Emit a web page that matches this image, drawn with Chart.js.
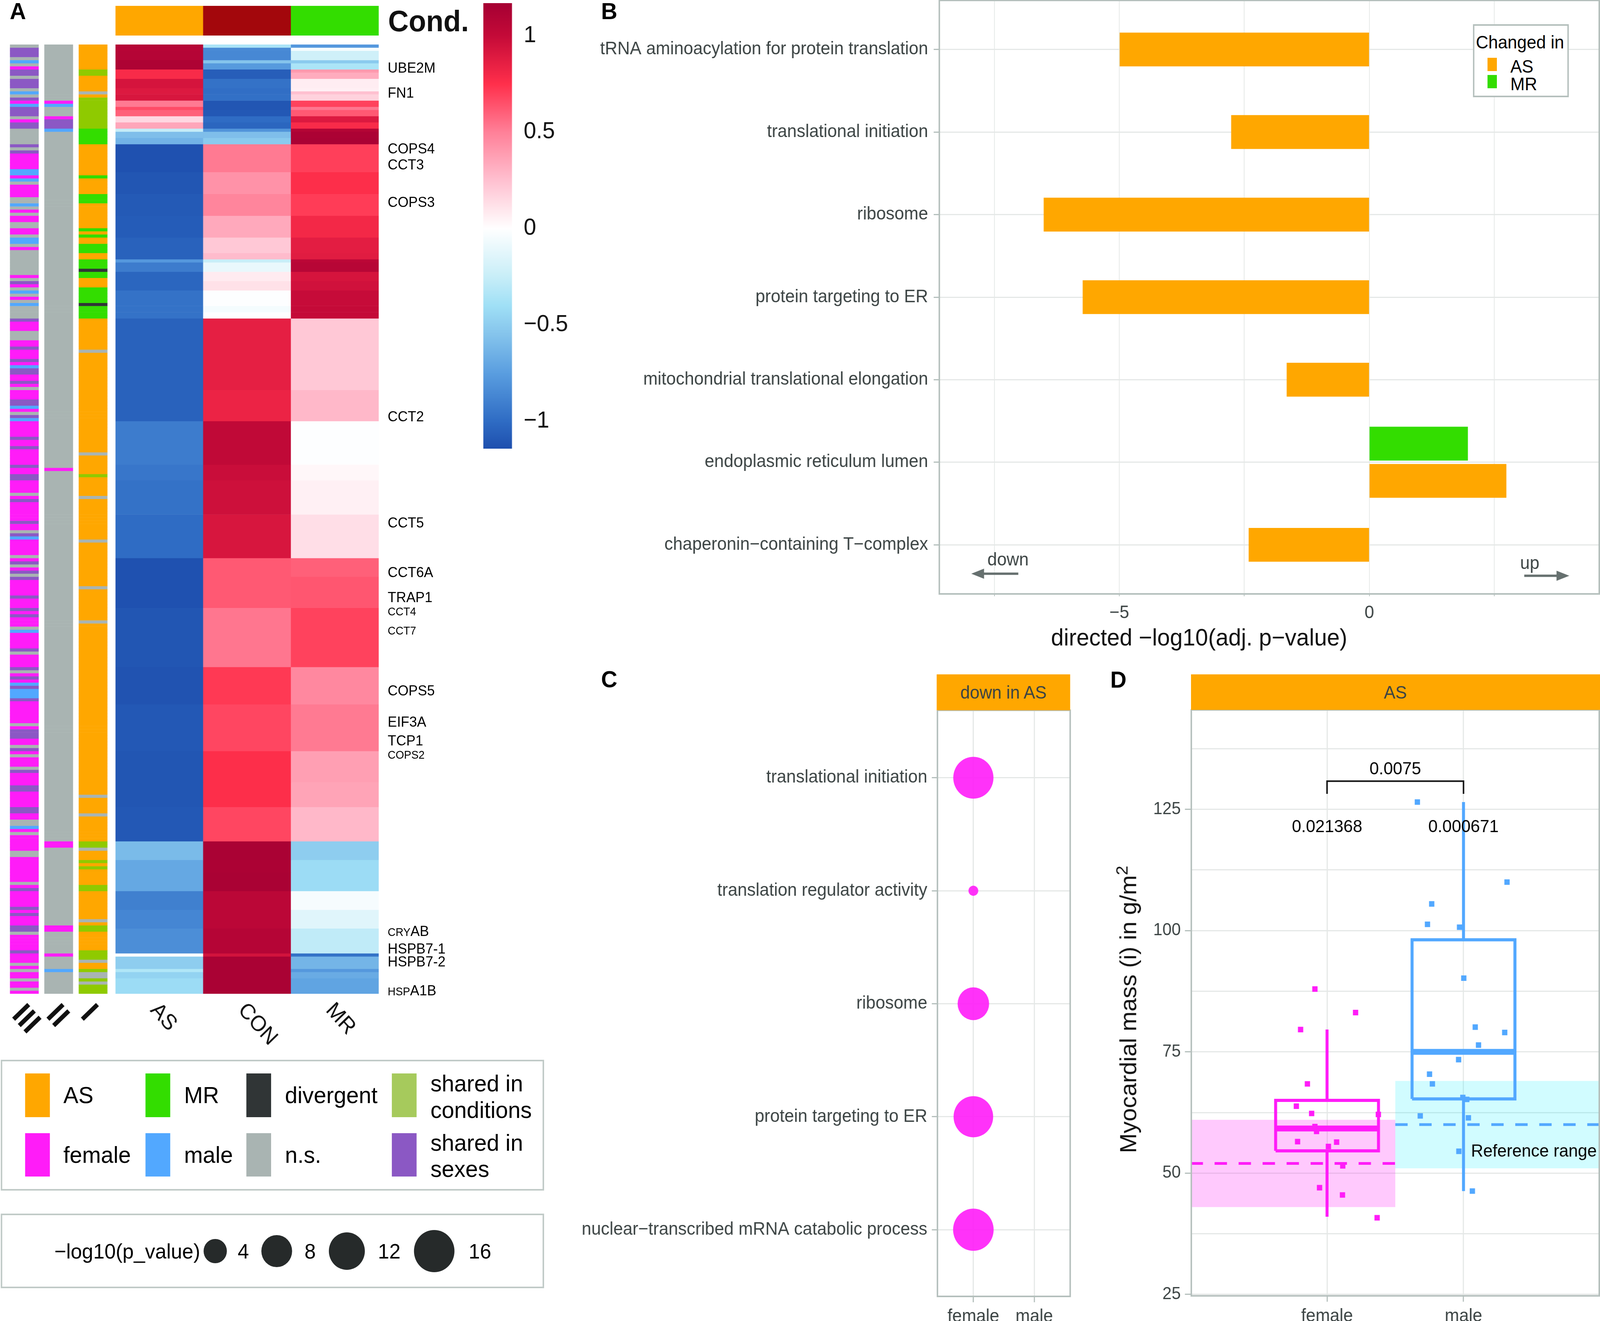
<!DOCTYPE html>
<html>
<head>
<meta charset="utf-8">
<title>Panels A-D</title>
<script src="https://cdn.jsdelivr.net/npm/chart.js@4"></script>
<style>
    html, body { margin: 0; padding: 0; background: #fff; overflow: hidden; }
    #page { position: relative; width: 4267px; height: 3383px; overflow: hidden; font-family: "Liberation Sans", sans-serif; transform-origin: 0 0; }
    #page canvas { position: absolute; }
    .txt { position: absolute; line-height: 1; white-space: nowrap; transform: translateY(-50%); color: #000; }
    .txt sup { font-size: 0.72em; line-height: 0; vertical-align: baseline; position: relative; top: -0.5em; }
    .box { position: absolute; box-sizing: border-box; }
</style>
</head>
<body>
<div id="page"></div>
<script>
// ---------- panel A data ----------
var condLabels = ['AS', 'CON', 'MR'];
var condColors = ['#ffa700', '#a3070c', '#33dd00'];
var sideLabels = ['III', 'II', 'I'];

// heatmap blocks, top to bottom: rows in the block + z-score per condition
var heatRuns = [1, 1, 3, 1, 2, 1, 2, 3, 1, 1, 2, 2, 1, 2, 2, 2, 1, 2, 2, 9, 7, 7, 7, 5, 2, 1, 3, 3, 3, 5, 2, 2, 23, 10, 14, 5, 11, 14, 6, 10, 19, 12, 15, 10, 8, 11, 6, 4, 6, 6, 6, 8, 1, 4, 1, 2, 5];
var heatAS = [1.08, 1.07, 1.08, 1.12, 1.12, 0.78, 0.78, 0.93, 0.9, 0.9, 0.92, 0.52, 0.66, 0.6, 0.16, 0.35, -0.26, -0.58, -0.64, -1.13, -1.11, -1.09, -1.08, -1.05, -1.05, -0.78, -0.92, -1.03, -1.03, -0.97, -0.97, -0.97, -1.05, -1.05, -0.92, -0.95, -0.97, -1.0, -1.13, -1.13, -1.11, -1.12, -1.1, -1.11, -1.11, -1.1, -0.6, -0.7, -0.7, -0.9, -0.87, -0.83, 0, -0.5, -0.34, -0.47, -0.42];
var heatCON = [-0.36, -0.85, -0.86, -0.55, -0.77, -1.07, -1.07, -0.97, -0.99, -0.99, -0.98, -1.11, -1.11, -1.1, -1.0, -1.03, -0.8, -0.58, -0.52, 0.52, 0.43, 0.48, 0.34, 0.22, 0.27, -0.25, -0.1, 0.08, 0.12, -0.01, -0.05, -0.01, 0.86, 0.83, 1.02, 0.98, 0.96, 0.92, 0.62, 0.62, 0.53, 0.72, 0.68, 0.76, 0.76, 0.68, 1.14, 1.13, 1.14, 1.05, 1.05, 1.08, 0.94, 1.14, 1.14, 1.14, 1.14];
var heatMR = [-0.78, -0.04, -0.22, -0.52, -0.36, 0.4, 0.33, 0.07, 0.06, 0.25, 0.18, 0.69, 0.53, 0.62, 0.9, 0.78, 1.09, 1.13, 1.14, 0.7, 0.76, 0.71, 0.8, 0.87, 0.88, 1.05, 1.07, 0.93, 0.95, 0.99, 1.0, 1.0, 0.22, 0.28, -0.01, 0.03, 0.06, 0.13, 0.6, 0.63, 0.69, 0.47, 0.52, 0.38, 0.36, 0.28, -0.5, -0.42, -0.42, -0.04, -0.14, -0.28, -0.97, -0.63, -0.78, -0.68, -0.72];

// annotation columns as code,count pairs (n = n.s., f = female, m = male, p = shared in sexes)
var sideIII = ['n',1,'p',3,'n',1,'m',1,'n',1,'f',1,'p',2,'n',1,'p',3,'n',1,'m',1,'n',1,'p',1,'f',1,'m',1,'p',3,'n',1,'f',1,'p',2,'n',5,'p',1,'n',1,'p',1,'f',5,'m',2,'f',1,'m',1,'n',1,'f',4,'n',2,'m',1,'n',1,'f',1,'n',1,'f',2,'n',2,'f',2,'n',1,'m',2,'n',1,'f',1,'n',8,'f',1,'n',1,'p',1,'f',1,'n',1,'m',1,'n',1,'f',1,'n',1,'m',1,'n',4,'p',1,'f',3,'n',3,'f',2,'p',1,
    'f',3,'p',1,'f',1,'m',1,'p',2,'f',2,'p',1,'f',1,'n',1,'f',3,'p',2,'m',1,'f',1,'n',1,'p',1,'m',1,'f',5,'p',1,'f',2,'p',1,'f',5,'p',1,'f',2,'p',2,'f',4,'n',1,'f',1,'p',1,'f',6,'p',1,'f',2,'n',1,'p',1,'m',1,'f',5,'n',1,'f',1,'p',1,'n',1,'f',1,'p',1,'n',1,'p',1,'f',5,'p',1,'f',3,'p',1,'f',1,'p',1,'f',3,'n',1,'m',1,'f',5,'p',1,'n',1,'f',4,'p',1,'n',1,'f',1,'p',1,'f',1,'m',1,'p',1,'m',3,'p',1,'f',7,'n',1,'f',1,'p',3,'f',2,'n',1,'p',1,'f',1,'n',1,'f',3,'n',1,'p',1,'f',4,
    'p',2,'f',5,'p',2,'f',2,'n',2,'m',1,'f',1,'n',1,'f',5,'n',2,'f',8,'n',1,'f',1,'p',1,'f',5,'p',1,'f',1,'p',1,'f',3,'p',2,'n',1,'f',5,'p',1,'f',3,'n',1,'f',1,'n',1,'f',2,'n',1,'f',2,'n',1,'f',1];
var sideII = ['n',18,'f',1,'m',1,'n',3,'f',1,'p',3,'m',1,'n',108,'f',1,'n',119,'f',2,'n',25,'f',2,'n',7,'f',1,'n',4,'m',1,'n',7];
// a = AS, g = MR, o = shared in conditions, d = divergent
var sideI = ['a',8,'o',2,'a',5,'n',1,'a',1,'o',10,'g',5,'a',10,'g',1,'a',5,'g',3,'a',8,'g',1,'a',1,'g',1,'a',2,'g',3,'a',2,'g',3,'d',1,'g',2,'a',3,'g',5,'d',1,'g',4,'a',10,
    'n',1,'a',32,'n',1,'a',6,'o',1,'a',6,'n',1,'a',13,'n',1,'a',14,'n',1,'a',10,'n',1,'a',55,'n',1,'a',5,'n',1,'a',8,'o',2,'n',1,'a',3,'o',1,'a',1,'o',1,'a',5,'o',2,'a',9,'n',1,'a',1,'o',2,'a',6,'o',3,'n',1,'a',2,'o',1,'n',2,'o',1,'n',1,'o',3];
var sideColors = { n: '#a9b4b2', f: '#ff1cf8', m: '#52a8ff', p: '#8b58c4', a: '#ffa700', g: '#33dd00', o: '#8fca00', d: '#303536' };

var scaleStops = [-1.142, -1, -0.75, -0.55, -0.4, -0.25, 0, 0.25, 0.5, 0.75, 1, 1.168];
var scaleColors = ['#1e4fae', '#2f6cc4', '#5a9ee0', '#85c4ec', '#a0e0f6', '#c8eef8', '#ffffff', '#ffc0d0', '#ff8098', '#ff2f4b', '#c40a38', '#a50033'];
var scaleTicks = [-1, -0.5, 0, 0.5, 1];

// ---------- panel B data ----------
var termsB = ['tRNA aminoacylation for protein translation', 'translational initiation', 'ribosome', 'protein targeting to ER', 'mitochondrial translational elongation', 'endoplasmic reticulum lumen', 'chaperonin\u2212containing T\u2212complex'];
var valuesAS_B = [-4.99, -2.76, -6.51, -5.73, -1.65, 2.74, -2.41];
var rowsAS_B = [0, 1, 2, 3, 4, 5, 6];
var valuesMR_B = [1.97];
var rowsMR_B = [5];

// ---------- panel C data ----------
var termsC = ['translational initiation', 'translation regulator activity', 'ribosome', 'protein targeting to ER', 'nuclear\u2212transcribed mRNA catabolic process'];
var sexesC = ['female', 'male'];
var logPvalues = [15.7, 1.2, 8.6, 15.1, 16];
var sizeLegendValues = [4, 8, 12, 16];

// ---------- panel D data ----------
var femaleX = [0.911, 1.209, 0.806, 0.856, 0.775, 0.887, 1.376, 0.911, 0.923, 0.784, 1.07, 1.01, 1.115, 0.945, 1.113, 1.367];
var femaleY = [87.95, 83.1, 79.6, 68.4, 63.8, 62.3, 62.1, 59.6, 58.6, 56.5, 56.4, 55.5, 51.5, 47, 45.5, 40.8];
var maleX = [1.662, 2.319, 1.767, 1.736, 1.971, 2.002, 2.086, 2.302, 2.11, 1.964, 1.751, 1.772, 1.995, 2.024, 1.683, 2.036, 1.966, 2.065];
var maleY = [126.5, 110, 105.5, 101.3, 100.7, 90.2, 80.1, 79, 76.4, 73.4, 70.4, 68.4, 65.6, 65.2, 61.8, 61.4, 54.5, 46.3];
var boxLow = [41, 46.3];
var boxQ1 = [54.6, 65.3];
var boxMedian = [59.2, 75];
var boxQ3 = [65, 98.1];
var boxHigh = [79.6, 126.5];
var refLow = [43, 51];
var refHigh = [61, 69];
var refMean = [52, 60];

// ---------- shared look ----------
var FEMALE = '#ff1cf8', MALE = '#52a8ff', ORANGE = '#ffa700', GREEN = '#33dd00';
var GRID = '#e5e8e7', FRAME = '#b4bfbc', TICKTEXT = '#3c4444';
Chart.defaults.font.family = '"Liberation Sans", sans-serif';
Chart.defaults.color = TICKTEXT;
Chart.defaults.animation = false;
Chart.defaults.responsive = false;
Chart.defaults.devicePixelRatio = 1;
Chart.defaults.plugins.legend.display = false;
Chart.defaults.plugins.tooltip.enabled = false;

var page = document.getElementById('page');
// the browser window can come up narrower than the 4267 wide layout, so fit it
if (window.innerWidth < 4267) {
    page.style.transform = 'scale(' + (window.innerWidth / 4267) + ',1)';
}

function addCanvas(left, top, w, h) {
    var c = document.createElement('canvas');
    c.width = w;
    c.height = h;
    c.style.left = left + 'px';
    c.style.top = top + 'px';
    page.appendChild(c);
    return c.getContext('2d');
}

function addText(html, x, y, size, opts) {
    opts = opts || {};
    var s = document.createElement('span');
    s.className = 'txt';
    s.innerHTML = html;
    s.style.left = x + 'px';
    s.style.top = y + 'px';
    s.style.fontSize = size + 'px';
    if (opts.bold) s.style.fontWeight = 'bold';
    if (opts.color) s.style.color = opts.color;
    if (opts.center) s.style.transform = 'translate(-50%,-50%)';
    if (opts.vertical) s.style.transform = 'translate(-50%,-50%) rotate(-90deg)';
    page.appendChild(s);
}

function addBox(x, y, w, h, color, border) {
    var d = document.createElement('div');
    d.className = 'box';
    d.style.left = x + 'px';
    d.style.top = y + 'px';
    d.style.width = w + 'px';
    d.style.height = h + 'px';
    if (color) d.style.background = color;
    if (border) d.style.border = '4px solid ' + border;
    page.appendChild(d);
    return d;
}

// fixed axis sizes so every plot area lands where it should, no auto margins
function noMargins(scale) {
    scale.paddingTop = scale.paddingBottom = scale.paddingLeft = scale.paddingRight = 0;
}
function fixWidth(w) { return function (scale) { scale.width = w; noMargins(scale); }; }
function fixHeight(h) { return function (scale) { scale.height = h; noMargins(scale); }; }

function hexToRgb(h) {
    return [parseInt(h.substr(1, 2), 16), parseInt(h.substr(3, 2), 16), parseInt(h.substr(5, 2), 16)];
}

// z-score to colour along the colour bar
function colorAt(v) {
    var i = 0;
    while (i < scaleStops.length - 2 && v > scaleStops[i + 1]) i++;
    var t = Math.min(1, Math.max(0, (v - scaleStops[i]) / (scaleStops[i + 1] - scaleStops[i])));
    var a = hexToRgb(scaleColors[i]), b = hexToRgb(scaleColors[i + 1]);
    return 'rgb(' + Math.round(a[0] + (b[0] - a[0]) * t) + ',' + Math.round(a[1] + (b[1] - a[1]) * t) + ',' + Math.round(a[2] + (b[2] - a[2]) * t) + ')';
}

function expandRuns(pairs) {
    var out = [];
    for (var i = 0; i < pairs.length; i += 2) {
        for (var j = 0; j < pairs[i + 1]; j++) out.push(pairs[i]);
    }
    return out;
}

// dot radius in px, area-style scale
function dotRadius(v) {
    return 13 + 41 * Math.sqrt(Math.max(0, (v - 1.2) / 14.8));
}

// frame round the plot area
var framePlugin = {
    id: 'frame',
    afterDatasetsDraw: function (chart) {
        var a = chart.chartArea, ctx = chart.ctx;
        ctx.save();
        ctx.strokeStyle = FRAME;
        ctx.lineWidth = 4;
        ctx.strokeRect(a.left, a.top, a.right - a.left, a.bottom - a.top);
        ctx.restore();
    }
};

// text placed in data coordinates
var notesPlugin = {
    id: 'notes',
    afterDatasetsDraw: function (chart, args, opts) {
        var ctx = chart.ctx;
        (opts.items || []).forEach(function (n) {
            ctx.save();
            ctx.font = n.size + 'px "Liberation Sans"';
            ctx.fillStyle = n.color || '#000';
            ctx.textAlign = n.align || 'center';
            ctx.textBaseline = 'middle';
            ctx.fillText(n.text, chart.scales.x.getPixelForValue(n.x), chart.scales.y.getPixelForValue(n.y));
            ctx.restore();
        });
    }
};

// slanted column labels under the heatmap
var slantPlugin = {
    id: 'slant',
    afterDraw: function (chart, args, opts) {
        var ctx = chart.ctx, sx = chart.scales.x, bottom = chart.chartArea.bottom;
        chart.data.labels.forEach(function (label, i) {
            ctx.save();
            ctx.translate(sx.getPixelForTick(i) + opts.dx, bottom + opts.dy);
            ctx.rotate(47 * Math.PI / 180);
            ctx.font = (opts.bold ? 'bold ' : '') + opts.size + 'px "Liberation Sans"';
            ctx.fillStyle = '#111';
            ctx.textAlign = 'left';
            ctx.textBaseline = 'middle';
            ctx.fillText(label, 0, 0);
            ctx.restore();
        });
    }
};

// ---------- panel A: annotation columns ----------
var rowsIII = expandRuns(sideIII), rowsII = expandRuns(sideII), rowsI = expandRuns(sideI);
var sideSets = [];
for (var r = 0; r < rowsIII.length; r++) {
    sideSets.push({
        data: [1, 1, 1],
        backgroundColor: [sideColors[rowsIII[r]], sideColors[rowsII[r]], sideColors[rowsI[r]]],
        barPercentage: 1,
        categoryPercentage: 0.83,
        inflateAmount: 0.33
    });
}
new Chart(addCanvas(18.5, 114, 275, 2601), {
    type: 'bar',
    data: { labels: sideLabels, datasets: sideSets },
    options: {
        layout: { padding: { bottom: 170 } },
        scales: {
            x: { display: false, stacked: true },
            y: { display: false, stacked: true, reverse: true, min: 0, max: rowsIII.length }
        },
        plugins: { slant: { dx: -20, dy: 42, size: 80, bold: true } }
    },
    plugins: [slantPlugin]
});

// ---------- panel A: heatmap ----------
var heatSets = heatRuns.map(function (n, i) {
    return {
        data: [n, n, n],
        backgroundColor: [colorAt(heatAS[i]), colorAt(heatCON[i]), colorAt(heatMR[i])],
        barPercentage: 1,
        categoryPercentage: 1
    };
});
new Chart(addCanvas(308, 114, 702, 2601), {
    type: 'bar',
    data: { labels: condLabels, datasets: heatSets },
    options: {
        layout: { padding: { bottom: 170 } },
        scales: {
            x: { display: false, stacked: true },
            y: { display: false, stacked: true, reverse: true, min: 0, max: 305 }
        },
        plugins: { slant: { dx: -15, dy: 33, size: 56, bold: false } }
    },
    plugins: [slantPlugin]
});

// condition strip above the heatmap
new Chart(addCanvas(308, 15, 702, 76), {
    type: 'bar',
    data: { labels: condLabels, datasets: [{ data: [1, 1, 1], backgroundColor: condColors, barPercentage: 1, categoryPercentage: 1 }] },
    options: { scales: { x: { display: false }, y: { display: false, min: 0, max: 1 } } }
});

// colour bar
new Chart(addCanvas(1289, 8, 280, 1141), {
    type: 'bar',
    data: {
        labels: ['z'],
        datasets: [{
            data: [[scaleStops[0], scaleStops[scaleStops.length - 1]]],
            barPercentage: 1,
            categoryPercentage: 1,
            backgroundColor: function (c) {
                var area = c.chart.chartArea;
                if (!area) return '#fff';
                var sy = c.chart.scales.y;
                var g = c.chart.ctx.createLinearGradient(0, sy.getPixelForValue(scaleStops[0]), 0, sy.getPixelForValue(scaleStops[scaleStops.length - 1]));
                var span = scaleStops[scaleStops.length - 1] - scaleStops[0];
                scaleStops.forEach(function (s, i) { g.addColorStop((s - scaleStops[0]) / span, scaleColors[i]); });
                return g;
            }
        }]
    },
    options: {
        scales: {
            x: { display: false },
            y: {
                position: 'right',
                min: scaleStops[0],
                max: scaleStops[scaleStops.length - 1],
                afterFit: fixWidth(203.5),
                afterBuildTicks: function (scale) { scale.ticks = scaleTicks.map(function (v) { return { value: v }; }); },
                grid: { display: false },
                border: { display: false },
                ticks: {
                    padding: 23,
                    color: '#111',
                    font: { size: 60 },
                    callback: function (v) { return String(v).replace('-', '\u2212'); }
                }
            }
        }
    }
});

// ---------- panel B ----------
var arrowPlugin = {
    id: 'arrows',
    afterDatasetsDraw: function (chart) {
        var ctx = chart.ctx, sx = chart.scales.x, sy = chart.scales.y;
        [[-7.02, -7.96, 6.35], [3.1, 4.0, 6.375]].forEach(function (a) {
            var x0 = sx.getPixelForValue(a[0]), x1 = sx.getPixelForValue(a[1]), y = sy.getPixelForValue(a[2]);
            var dir = x1 > x0 ? 1 : -1;
            ctx.save();
            ctx.strokeStyle = '#66706f';
            ctx.fillStyle = '#66706f';
            ctx.lineWidth = 6;
            ctx.beginPath();
            ctx.moveTo(x0, y);
            ctx.lineTo(x1 - dir * 20, y);
            ctx.stroke();
            ctx.beginPath();
            ctx.moveTo(x1, y);
            ctx.lineTo(x1 - dir * 34, y - 13);
            ctx.lineTo(x1 - dir * 34, y + 13);
            ctx.closePath();
            ctx.fill();
            ctx.restore();
        });
    }
};

function rowPoints(xs, rows, shift) {
    return xs.map(function (v, i) {
        // the one row with two bars sets them apart
        return { x: v, y: rows[i] + (rows[i] === 5 ? shift : 0) };
    });
}

new Chart(addCanvas(1500, 0, 2767, 1668), {
    type: 'bar',
    data: {
        datasets: [
            { label: 'AS', data: rowPoints(valuesAS_B, rowsAS_B, 0.2256), backgroundColor: ORANGE, barThickness: 86, grouped: false },
            { label: 'MR', data: rowPoints(valuesMR_B, rowsMR_B, -0.2256), backgroundColor: GREEN, barThickness: 86, grouped: false }
        ]
    },
    options: {
        indexAxis: 'y',
        layout: { padding: { top: 1, right: 2 } },
        scales: {
            x: {
                type: 'linear',
                min: -8.6,
                max: 4.6,
                afterFit: fixHeight(147),
                grid: { color: GRID, lineWidth: 2, tickLength: 6, tickColor: FRAME },
                border: { display: false },
                ticks: {
                    stepSize: 2.5,
                    includeBounds: false,
                    autoSkip: false,
                    maxRotation: 0,
                    padding: 16,
                    font: { size: 46 },
                    callback: function (v) { return v === -5 ? '\u22125' : (v === 0 ? '0' : ''); }
                }
            },
            y: {
                type: 'linear',
                reverse: true,
                offset: false,
                min: -0.595,
                max: 6.595,
                afterFit: fixWidth(1005),
                grid: { offset: false, color: GRID, lineWidth: 3, tickLength: 15, tickColor: FRAME, tickWidth: 3 },
                border: { display: false },
                ticks: {
                    stepSize: 1,
                    includeBounds: false,
                    autoSkip: false,
                    padding: 15,
                    font: { size: 46 },
                    callback: function (v) { return termsB[v]; }
                }
            }
        },
        plugins: {
            notes: {
                items: [
                    { x: -7.225, y: 6.19, text: 'down', size: 46, color: TICKTEXT },
                    { x: 3.21, y: 6.23, text: 'up', size: 46, color: TICKTEXT }
                ]
            }
        }
    },
    plugins: [framePlugin, notesPlugin, arrowPlugin]
});
addText('directed \u2212log10(adj. p\u2212value)', 3198, 1632, 61, { center: true, color: '#111' });

// legend of panel B
addBox(3928, 62, 256, 187, '#fff', FRAME);
addText('Changed in', 3936, 108, 46);
addBox(3967, 148, 25, 34, ORANGE);
addBox(3967, 192, 25, 34, GREEN);
addText('AS', 4028, 170, 46);
addText('MR', 4028, 215, 46);

// ---------- panel C ----------
// big dots make chart.js keep a margin as wide as their radius, so the canvas is oversized by that much
new Chart(addCanvas(1500, 1759, 1414, 1624), {
    type: 'scatter',
    data: {
        datasets: [{
            data: logPvalues.map(function (v, i) { return { x: 0, y: i }; }),
            pointRadius: logPvalues.map(dotRadius),
            backgroundColor: 'rgba(255,28,248,0.9)',
            borderWidth: 0
        }]
    },
    options: {
        layout: { padding: { top: 60, right: 60 } },
        scales: {
            x: {
                type: 'linear',
                min: -0.59,
                max: 1.59,
                afterFit: fixHeight(63),
                grid: { color: GRID, lineWidth: 3, tickLength: 15, tickColor: FRAME, tickWidth: 3 },
                border: { display: false },
                ticks: {
                    stepSize: 1,
                    includeBounds: false,
                    autoSkip: false,
                    maxRotation: 0,
                    padding: 10,
                    font: { size: 46 },
                    callback: function (v) { return sexesC[v]; }
                }
            },
            y: {
                type: 'linear',
                reverse: true,
                min: -0.597,
                max: 4.59,
                afterFit: fixWidth(1000),
                grid: { color: GRID, lineWidth: 3, tickLength: 15, tickColor: FRAME, tickWidth: 3 },
                border: { display: false },
                ticks: {
                    stepSize: 1,
                    includeBounds: false,
                    autoSkip: false,
                    padding: 12,
                    font: { size: 46 },
                    callback: function (v) { return termsC[v]; }
                }
            }
        }
    },
    plugins: [framePlugin]
});

// ---------- panel D ----------
var BOX_HALF = 0.377;
var boxColors = [FEMALE, MALE];
var refFills = ['rgba(255,28,248,0.24)', 'rgba(0,240,255,0.18)'];
var refFrom = [0, 1.5];
var refTo = [1.5, 3];

function zipPoints(xs, ys) {
    return xs.map(function (v, i) { return { x: v, y: ys[i] }; });
}

function lineSet(points, color, width, order, dash) {
    return {
        type: 'scatter',
        data: points,
        showLine: true,
        pointRadius: 0,
        borderColor: color,
        borderWidth: width,
        borderDash: dash || [],
        borderJoinStyle: 'miter',
        order: order,
        fill: false
    };
}

var setsD = [];
[0, 1].forEach(function (i) {
    var c = i + 1, left = refFrom[i], right = refTo[i];
    // reference range band
    setsD.push({
        type: 'scatter',
        data: [{ x: left, y: refHigh[i] }, { x: right, y: refHigh[i] }],
        showLine: true,
        pointRadius: 0,
        borderWidth: 0,
        order: 10,
        fill: { target: { value: refLow[i] }, above: refFills[i], below: refFills[i] }
    });
    setsD.push(lineSet([{ x: left, y: refMean[i] }, { x: right, y: refMean[i] }], boxColors[i], 7, 8, [33, 31]));
    // whiskers, box and median
    setsD.push(lineSet([{ x: c, y: boxLow[i] }, { x: c, y: boxQ1[i] }], boxColors[i], 8, 6));
    setsD.push(lineSet([{ x: c, y: boxQ3[i] }, { x: c, y: boxHigh[i] }], boxColors[i], 8, 6));
    setsD.push(lineSet([
        { x: c - BOX_HALF, y: boxQ1[i] }, { x: c + BOX_HALF, y: boxQ1[i] }, { x: c + BOX_HALF, y: boxQ3[i] },
        { x: c - BOX_HALF, y: boxQ3[i] }, { x: c - BOX_HALF, y: boxQ1[i] }
    ], boxColors[i], 8, 6));
    setsD.push(lineSet([{ x: c - BOX_HALF, y: boxMedian[i] }, { x: c + BOX_HALF, y: boxMedian[i] }], boxColors[i], 15, 6));
});
setsD.push({ type: 'scatter', data: zipPoints(femaleX, femaleY), pointStyle: 'rect', pointRadius: 10, backgroundColor: FEMALE, borderWidth: 0, order: 1 });
setsD.push({ type: 'scatter', data: zipPoints(maleX, maleY), pointStyle: 'rect', pointRadius: 10, backgroundColor: MALE, borderWidth: 0, order: 1 });
// significance bracket
setsD.push(lineSet([{ x: 1, y: 128.2 }, { x: 1, y: 130.8 }, { x: 2, y: 130.8 }, { x: 2, y: 128.2 }], '#111', 4, 2));

new Chart(addCanvas(2972, 1798, 1313, 1585), {
    type: 'scatter',
    data: { datasets: setsD },
    options: {
        layout: { padding: { top: 20, right: 20 } },
        scales: {
            x: {
                type: 'linear',
                min: 0.005,
                max: 2.995,
                afterFit: fixHeight(64.4),
                grid: { color: GRID, lineWidth: 3, tickLength: 15, tickColor: FRAME, tickWidth: 3 },
                border: { display: false },
                ticks: {
                    stepSize: 1,
                    includeBounds: false,
                    autoSkip: false,
                    maxRotation: 0,
                    padding: 10,
                    font: { size: 46 },
                    callback: function (v) { return v === 1 ? 'female' : (v === 2 ? 'male' : ''); }
                }
            },
            y: {
                type: 'linear',
                min: 24.7,
                max: 145.5,
                afterFit: fixWidth(205),
                grid: {
                    color: GRID,
                    lineWidth: 3,
                    tickLength: 17,
                    tickWidth: 3,
                    tickColor: function (c) { return c.tick && c.tick.value % 25 === 0 ? FRAME : 'rgba(0,0,0,0)'; }
                },
                border: { display: false },
                ticks: {
                    stepSize: 12.5,
                    includeBounds: false,
                    autoSkip: false,
                    padding: 11,
                    font: { size: 44 },
                    callback: function (v) { return v % 25 === 0 ? String(v) : ''; }
                }
            }
        },
        plugins: {
            notes: {
                items: [
                    { x: 1.5, y: 133.2, text: '0.0075', size: 45 },
                    { x: 1, y: 121.3, text: '0.021368', size: 45 },
                    { x: 2, y: 121.3, text: '0.000671', size: 45 },
                    { x: 2.055, y: 54.4, text: 'Reference range', size: 45, align: 'left' }
                ]
            }
        }
    },
    plugins: [framePlugin, notesPlugin]
});
addText('Myocardial mass (i) in g/m<sup>2</sup>', 3009, 2585, 61, { vertical: true, color: '#111' });

// ---------- strips, letters, labels and legends ----------
addBox(2498, 1727, 356, 92, ORANGE);
addText('down in AS', 2676, 1773, 46, { center: true, color: TICKTEXT });
addBox(3176, 1727, 1091, 91, ORANGE);
addText('AS', 3721, 1773, 46, { center: true, color: TICKTEXT });

addText('A', 26, 29, 60, { bold: true });
addText('B', 1603, 29, 60, { bold: true });
addText('C', 1603, 1740, 60, { bold: true });
addText('D', 2961, 1741, 60, { bold: true });
addText('Cond.', 1035, 54, 76, { bold: true, color: '#111' });

var geneLabels = ['UBE2M', 'FN1', 'COPS4', 'CCT3', 'COPS3', 'CCT2', 'CCT5', 'CCT6A', 'TRAP1', '<small>CCT4</small>', '<small>CCT7</small>', 'COPS5', 'EIF3A', 'TCP1', '<small>COPS2</small>', '<small>CRY</small>AB', 'HSPB7-1', 'HSPB7-2', '<small>HSP</small>A1B'];
var geneY = [173, 237, 380, 421, 517, 1066, 1338, 1465, 1529, 1563, 1612, 1768, 1848, 1896, 1930, 2384, 2429, 2462, 2536];
geneLabels.forEach(function (g, i) {
    addText(g.replace(/<small>/g, '<span style="font-size:29px">').replace(/<\/small>/g, '</span>'), 1034, geneY[i], 37);
});

// category legend
addBox(2, 2714, 1449, 335, null, '#c0cac7');
var legendNames = ['AS', 'MR', 'divergent', '', 'female', 'male', 'n.s.', ''];
var legendColors = ['#ffa700', '#33dd00', '#303536', '#a6ca5c', '#ff1cf8', '#52a8ff', '#a9b4b2', '#8b58c4'];
var legendSwatchX = [67, 388, 657, 1045];
var legendTextX = [169, 491, 760];
legendColors.forEach(function (c, i) {
    var col = i % 4, row = i < 4 ? 0 : 1;
    addBox(legendSwatchX[col], row ? 2902 : 2749, 66, row ? 111 : 112, c);
    if (legendNames[i]) addText(legendNames[i], legendTextX[col], row ? 2958 : 2805, 60);
});
addText('shared in', 1148, 2775, 60);
addText('conditions', 1148, 2843, 60);
addText('shared in', 1148, 2927, 60);
addText('sexes', 1148, 2994, 60);

// size legend
addBox(2, 3108, 1449, 191, null, '#c0cac7');
addText('\u2212log10(p_value)', 145, 3204, 54);
var sizeLegendX = [574, 738, 925, 1158];
var sizeLegendTextX = [649, 827, 1038, 1280];
sizeLegendValues.forEach(function (v, i) {
    var rad = dotRadius(v);
    var d = addBox(sizeLegendX[i] - rad, 3204 - rad, rad * 2, rad * 2, '#262a2a');
    d.style.borderRadius = '50%';
    addText(String(v), sizeLegendTextX[i], 3204, 54, { center: true });
});
</script>
</body>
</html>
